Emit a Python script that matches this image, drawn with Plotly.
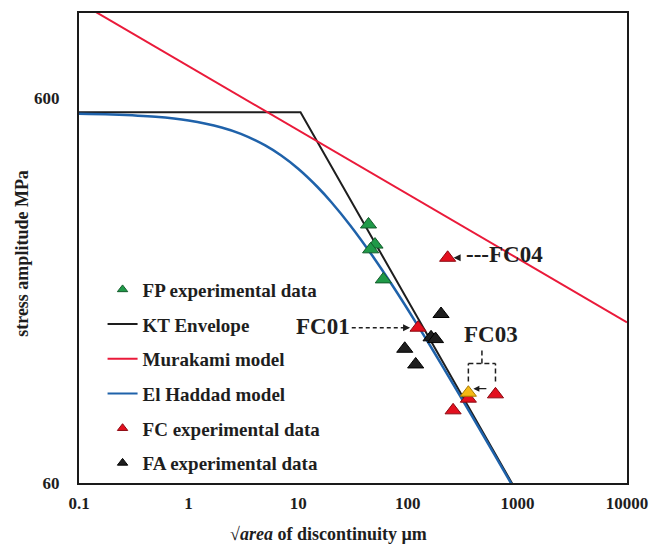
import math
import plotly.graph_objects as go

# ---------------- data ----------------
# sqrt(area) of discontinuity [µm] vs stress amplitude [MPa]
fp_x = [43.8, 50.2, 45.8, 59.8]
fp_y = [282, 250, 243, 203]

fc_x = [231, 124, 631, 357, 259]
fc_y = [231, 152, 102, 99.4, 92.7]

fc03b_x = [357]          # highlighted (yellow) FC03 point
fc03b_y = [103]

fa_x = [201, 163, 179, 93.8, 118]
fa_y = [165, 143.5, 142, 134, 122]

# model curves
kt_x = [0.1, 10.5, 1000]
kt_y = [552, 552, 56.6]

mur_x = [0.1, 10000]
mur_y = [1067, 157]

eh_x = [0.1, 0.2, 0.5, 1, 2, 3, 5, 7, 10, 15, 20, 30, 50, 70, 100, 150, 200,
        300, 500, 700, 1000]
eh_y = [547.4, 544.8, 537.4, 525.5, 504.1, 485.1, 452.7, 426.0, 393.6, 352.9,
        322.7, 280.0, 229.1, 198.6, 169.5, 140.7, 122.8, 101.1, 78.9, 66.9, 56.1]

x_ticks = [0.1, 1, 10, 100, 1000, 10000]
x_ticktext = ["0.1", "1", "10", "100", "1000", "10000"]
y_ticks = [60, 600]
y_ticktext = ["60", "600"]

X_RANGE = [-1, 4]
Y_RANGE = [math.log10(60), 3.0]

# ---------------- styles ----------------
FONT = "Liberation Serif"
GREEN, GREEN_E = "#1f9a48", "#145c2c"
RED, RED_E = "#e3101f", "#8b0a12"
BLACK = "#1e1e1e"
YELLOW, YELLOW_E = "#f5b914", "#a87a00"
BLUE = "#1f62aa"
LRED = "#ea1a3a"

M_L, M_R, M_T, M_B = 79, 26, 11, 66
W, H = 659, 549
PX_X = (W - M_L - M_R) / (X_RANGE[1] - X_RANGE[0])   # px per decade
PX_Y = (H - M_T - M_B) / (Y_RANGE[1] - Y_RANGE[0])


def offset(x, y, dx, dy):
    """data point shifted by dx, dy screen pixels (dy up)."""
    return x * 10 ** (dx / PX_X), y * 10 ** (dy / PX_Y)


fig = go.Figure()

# lines
fig.add_trace(go.Scatter(x=kt_x, y=kt_y, mode="lines",
                         line=dict(color=BLACK, width=2), showlegend=False))
fig.add_trace(go.Scatter(x=mur_x, y=mur_y, mode="lines",
                         line=dict(color=LRED, width=2), showlegend=False))
fig.add_trace(go.Scatter(x=eh_x, y=eh_y, mode="lines", line_shape="spline",
                         line=dict(color=BLUE, width=2.5), showlegend=False))


def tri(x, y, fill, edge, size=14):
    return go.Scatter(x=x, y=y, mode="markers", showlegend=False,
                      marker=dict(symbol="triangle-up", size=size, color=fill,
                                  line=dict(color=edge, width=1)))


fig.add_trace(tri(fp_x, fp_y, GREEN, GREEN_E))
fig.add_trace(tri(fa_x, fa_y, BLACK, "#000000"))
fig.add_trace(tri(fc_x, fc_y, RED, RED_E))
fig.add_trace(tri(fc03b_x, fc03b_y, YELLOW, YELLOW_E))

p4 = (fc_x[0], fc_y[0])
p1 = (fc_x[1], fc_y[1])
p3 = (fc_x[2], fc_y[2])
pb = (fc03b_x[0], fc03b_y[0])

# dashed leader lines as layout shapes (data values on log axes)
shapes = []


def dashed(pt, segs, dash="4px,3px", width=1.5):
    for (dx0, dy0, dx1, dy1) in segs:
        a = offset(pt[0], pt[1], dx0, dy0)
        b = offset(pt[0], pt[1], dx1, dy1)
        shapes.append(dict(type="line", xref="x", yref="y", layer="above",
                           x0=a[0], y0=a[1], x1=b[0], y1=b[1],
                           line=dict(color=BLACK, width=width, dash=dash)))


dashed(p1, [(-67, 0, -14, 0)])
gap = PX_X * math.log10(p3[0] / pb[0])          # pixel distance between them
dashed(p3, [(0, 13, 0, 31), (-gap, 31, 0, 31), (-gap, 13, -gap, 31),
            (-gap / 2, 31, -gap / 2, 46)], dash="5px,3px")


# legend-only entries
def leg_marker(name, fill, edge):
    return go.Scatter(x=[None], y=[None], mode="markers", name=name,
                      marker=dict(symbol="triangle-up", size=9, color=fill,
                                  line=dict(color=edge, width=1)))


def leg_line(name, color):
    return go.Scatter(x=[None], y=[None], mode="lines", name=name,
                      line=dict(color=color, width=2))


legend_items = [
    leg_marker("FP experimental data", GREEN, GREEN_E),
    leg_line("KT Envelope", BLACK),
    leg_line("Murakami model", LRED),
    leg_line("El Haddad model", BLUE),
    leg_marker("FC experimental data", RED, RED_E),
    leg_marker("FA experimental data", BLACK, "#000000"),
]
for i, t in enumerate(legend_items):
    t.legendgroup = "g%d" % i
    t.legendrank = i + 1
    fig.add_trace(t)

# ---------------- annotations ----------------
lab_font = dict(family=FONT, size=23, color=BLACK, weight="bold")
lg = math.log10
annotations = []


def arrow(pt, ax, standoff, width=1.4, yshift=0):
    annotations.append(dict(x=lg(pt[0]), y=lg(pt[1]), xref="x", yref="y",
                            text=" ", showarrow=True, ax=ax, ay=0,
                            arrowhead=2, arrowsize=1, arrowwidth=width,
                            standoff=standoff, arrowcolor=BLACK, yshift=yshift,
                            bgcolor="rgba(0,0,0,0)"))


annotations.append(dict(x=lg(p4[0]), y=lg(p4[1]), xref="x", yref="y",
                        text="---FC04", showarrow=False, xanchor="left",
                        xshift=16, yshift=3, font=lab_font))
arrow(p4, 15, 6)

annotations.append(dict(x=lg(p1[0]), y=lg(p1[1]), xref="x", yref="y", text="FC01",
                        showarrow=False, xanchor="right", xshift=-66, yshift=1,
                        font=lab_font))
arrow(p1, -15, 8)

annotations.append(dict(x=lg(p3[0]), y=lg(p3[1]), xref="x", yref="y", text="FC03",
                        showarrow=False, xanchor="center", yanchor="middle",
                        xshift=-4, yshift=60, font=lab_font))
arrow(pb, 21, 5, width=1.2, yshift=4)

# axis titles
title_font = dict(family=FONT, size=18, color=BLACK, weight="bold")
annotations.append(dict(x=(331 - M_L) / (W - M_L - M_R), y=-0.108, xref="paper",
                        yref="paper", text="√<i>area</i> of discontinuity µm",
                        showarrow=False, xanchor="center", yanchor="middle",
                        font=title_font))
annotations.append(dict(x=(22 - M_L) / (W - M_L - M_R), y=0.489, xref="paper",
                        yref="paper", text="stress amplitude MPa", showarrow=False,
                        textangle=-90, xanchor="center", yanchor="middle",
                        font=title_font))

tick_font = dict(family=FONT, size=17, color=BLACK, weight="bold")

fig.update_layout(
    width=W, height=H,
    margin=dict(l=M_L, r=M_R, t=M_T, b=M_B),
    paper_bgcolor="white", plot_bgcolor="white",
    showlegend=True,
    legend=dict(x=0.043, y=0.452, xanchor="left", yanchor="top",
                bgcolor="rgba(0,0,0,0)", traceorder="grouped",
                tracegroupgap=7,
                font=dict(family=FONT, size=19, color=BLACK, weight="bold")),
    xaxis=dict(type="log", range=X_RANGE, tickvals=x_ticks, ticktext=x_ticktext,
               showgrid=False, zeroline=False, ticks="", showline=True,
               mirror=True, linecolor="#1a1a1a", linewidth=2,
               tickfont=tick_font, ticklabelstandoff=4),
    yaxis=dict(type="log", range=Y_RANGE, tickvals=y_ticks,
               ticktext=y_ticktext, showgrid=False, zeroline=False, ticks="",
               showline=True, mirror=True, linecolor="#1a1a1a", linewidth=2,
               tickfont=tick_font, ticklabelstandoff=14),
    annotations=annotations,
    shapes=shapes,
)

fig.write_html("out.html")
